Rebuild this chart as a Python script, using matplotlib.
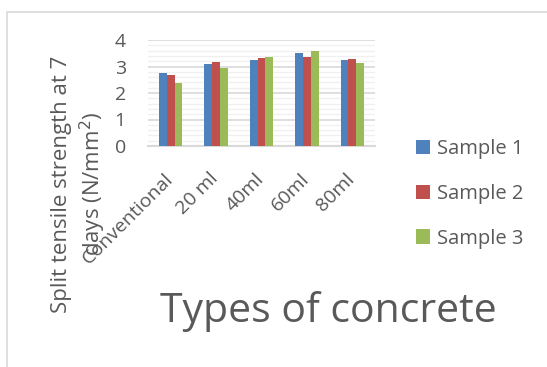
import matplotlib.pyplot as plt
import matplotlib.transforms as mtransforms
import numpy as np
from matplotlib.patches import Rectangle

plt.rcParams['font.family'] = ['Open Sans', 'DejaVu Sans']

# Split tensile strength at 7 days for each mix
categories = ['Conventional', '20 ml', '40ml', '60ml', '80ml']
sample1 = [2.74, 3.09, 3.23, 3.52, 3.23]
sample2 = [2.68, 3.17, 3.32, 3.37, 3.28]
sample3 = [2.39, 2.93, 3.37, 3.57, 3.14]
series_names = ['Sample 1', 'Sample 2', 'Sample 3']
colors = ['#4F81BD', '#C0504D', '#9BBB59']

txt = '#595959'
W, H = 547, 367
fig = plt.figure(figsize=(W / 100, H / 100), dpi=100)

# light frame around the chart area (runs off the right and bottom edges)
fig.patches.append(Rectangle((7 / W, -20 / H), 600 / W, 375 / H,
                             transform=fig.transFigure, fill=False,
                             edgecolor='#d9d9d9', linewidth=1.2))

ax = fig.add_axes([148 / W, 1 - 146 / H, 227 / W, 106 / H])

x = np.arange(len(categories))
w = 0.173
for i, (vals, name, c) in enumerate(zip([sample1, sample2, sample3], series_names, colors)):
    ax.bar(x + (i - 1) * w, vals, w, color=c, label=name, zorder=3)

ax.set_xlim(-0.5, len(categories) - 0.5)
ax.set_ylim(0, 4)
ax.set_yticks([0, 1, 2, 3, 4])
ax.set_yticks(np.arange(0, 4.01, 0.2), minor=True)
ax.yaxis.grid(True, which='major', color='#d9d9d9', linewidth=1.2, zorder=0)
ax.yaxis.grid(True, which='minor', color='#f0f0f0', linewidth=1.0, zorder=0)
ax.tick_params(axis='y', which='both', length=0, pad=16, labelsize=14, labelcolor=txt)
ax.tick_params(axis='x', length=0, pad=17)
for s in ['top', 'right', 'left']:
    ax.spines[s].set_visible(False)
ax.spines['bottom'].set_color('#d9d9d9')
ax.spines['bottom'].set_linewidth(1.5)

ax.set_xticks(x)
ax.set_xticklabels(categories, rotation=45, ha='right', rotation_mode='anchor',
                   fontsize=14, color=txt)
shift = mtransforms.ScaledTranslation(-7 / 100, 0, fig.dpi_scale_trans)
for lab in ax.get_xticklabels():
    lab.set_transform(lab.get_transform() + shift)

fig.text(79.5 / W, 1 - 184 / H, 'Split tensile strength at 7\ndays (N/mm$^2$)',
         rotation=90, ha='center', va='center', multialignment='center',
         fontsize=16, color=txt, linespacing=1.22)

fig.text(328 / W, 1 - 312 / H, 'Types of concrete', ha='center', va='center',
         fontsize=29.5, color=txt)

fig.legend(loc='center left', bbox_to_anchor=(416 / W, 1 - 194 / H),
           frameon=False, fontsize=14.5, labelcolor=txt, handlelength=0.7,
           handleheight=0.7, handletextpad=0.35, labelspacing=1.22, borderpad=0,
           borderaxespad=0)

fig.savefig('out.png', dpi=100)
